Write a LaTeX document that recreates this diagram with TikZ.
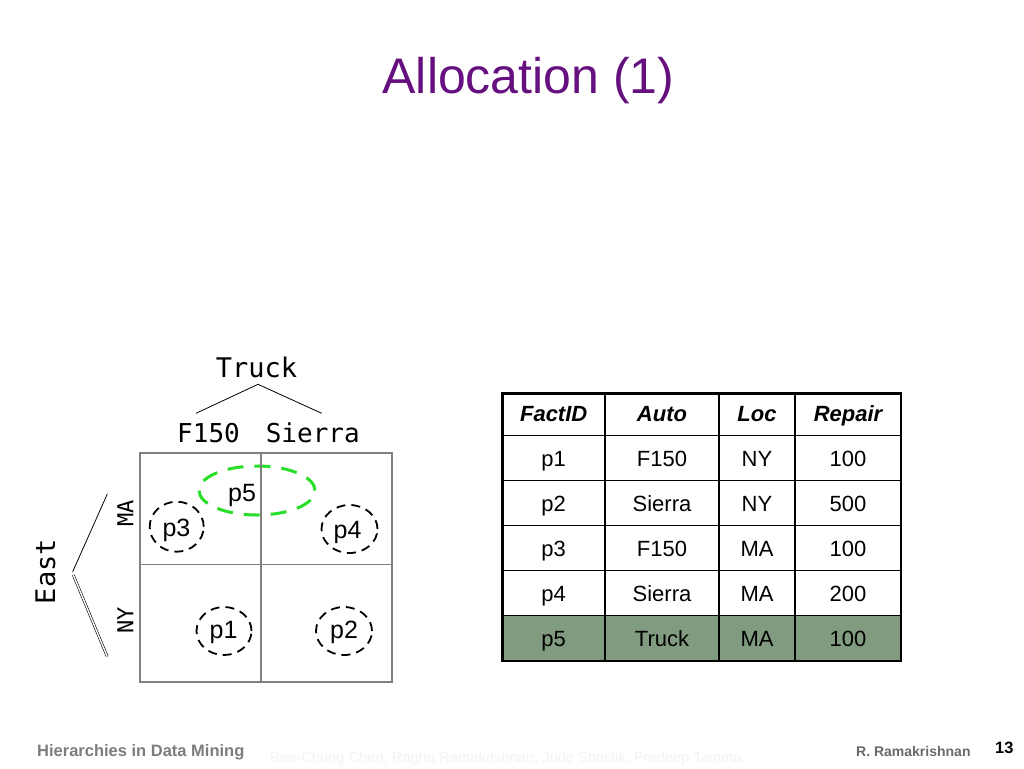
\documentclass[tikz,border=0pt]{standalone}
\usepackage{fontspec}
\setmainfont{Liberation Sans}
\newfontfamily\monof{DejaVu Sans Mono}
\usetikzlibrary{shapes.geometric}
\definecolor{titlepurple}{RGB}{102,16,128}
\definecolor{gridgray}{RGB}{128,128,128}
\definecolor{rowgreen}{RGB}{128,155,128}
\definecolor{dashgreen}{RGB}{40,222,40}
\definecolor{footgray}{RGB}{125,125,125}
\definecolor{faintgray}{RGB}{243,243,243}
\tikzset{
  fs/.style={font=\fontsize{#1}{#1}\selectfont},
  mono/.style={font=\monof\fontsize{#1}{#1}\selectfont, inner sep=0pt},
  cell/.style={font=\fontsize{22}{22}\selectfont, anchor=base, inner sep=0pt, text=black},
  hcell/.style={font=\bfseries\itshape\fontsize{22}{22}\selectfont, anchor=base, inner sep=0pt},
  ptlabel/.style={font=\fontsize{25}{25}\selectfont, anchor=base, inner sep=0pt},
  blackring/.style={ellipse, draw=black, line width=1.8pt, dash pattern=on 9pt off 6pt, inner sep=0pt},
  greenring/.style={ellipse, draw=dashgreen, line width=3pt, dash pattern=on 16pt off 11pt, inner sep=0pt},
  hier/.style={line width=0.8pt, black},
}
\begin{document}
\begin{tikzpicture}[x=1pt,y=-1pt]
\useasboundingbox (0,0) rectangle (1024,768);
\fill[white] (0,0) rectangle (1024,768);

% title
\node[fs=50, text=titlepurple, anchor=base, inner sep=0pt] (title) at (528.5,93) {Allocation (1)};

% hierarchy labels
\node[mono=27, anchor=base] (truck) at (256.5,377.5) {Truck};
\node[mono=26, anchor=base] (f150) at (208.5,442.7) {F150};
\node[mono=26, anchor=base] (sierra) at (312.8,442.7) {Sierra};
\node[mono=27, anchor=base, rotate=90] (east) at (55,571.5) {East};
\node[mono=22, anchor=base, rotate=90] (ma) at (133.3,513.5) {MA};
\node[mono=22, anchor=base, rotate=90] (ny) at (133.3,620) {NY};

\coordinate (tapex) at (258,384.3);
\coordinate (tleft) at (196,413.3);
\coordinate (tright) at (321.7,413.3);
\draw[hier] (tleft) -- (tapex) -- (tright);

\coordinate (etop) at (107.3,494);
\coordinate (emid) at (72.7,571.7);
\coordinate (emid2) at (73.3,575);
\coordinate (ebot) at (107.3,656.7);
\draw[hier] (etop) -- (emid);
\draw[line width=0.6pt, double, double distance=1.4pt] (emid2) -- (ebot);

% ellipses
\node[greenring, minimum width=116pt, minimum height=49pt] (e5) at (257,490.5) {};
\node[blackring, minimum width=54pt, minimum height=50pt] (e3) at (176.7,526.7) {};
\node[blackring, minimum width=56pt, minimum height=48pt] (e4) at (349.5,529) {};
\node[blackring, minimum width=55pt, minimum height=48pt] (e1) at (224,631) {};
\node[blackring, minimum width=56pt, minimum height=48pt] (e2) at (344,631) {};

% grid
\draw[gridgray, line width=1.1pt] (140,453) rectangle (392,682);
\draw[gridgray, line width=1.1pt] (261,453) -- (261,682);
\draw[gridgray, line width=1.1pt] (140,564.5) -- (392,564.5);

\node[ptlabel] (p5) at (242,501.5) {p5};
\node[ptlabel] (p3) at (176.5,536.7) {p3};
\node[ptlabel] (p4) at (347.5,538.3) {p4};
\node[ptlabel] (p1) at (223.5,638.3) {p1};
\node[ptlabel] (p2) at (344,638.3) {p2};

% table
\fill[rowgreen] (502.3,615.7) rectangle (901,661);
\foreach \yy in {435.7,480.7,525.7,570.7,615.7}
  \draw[line width=1.4pt] (502.3,\yy) -- (901,\yy);
\foreach \xx in {605,719,795}
  \draw[line width=1.4pt] (\xx,393.3) -- (\xx,661);
\draw[line width=2.8pt] (502.3,393.3) rectangle (901,661);

\node[hcell] (h1) at (553.7,421) {FactID};
\node[hcell] (h2) at (662,421) {Auto};
\node[hcell] (h3) at (757,421) {Loc};
\node[hcell] (h4) at (848,421) {Repair};

\node[cell] (r1a) at (553.7,466) {p1};
\node[cell] (r1b) at (662,466) {F150};
\node[cell] (r1c) at (757,466) {NY};
\node[cell] (r1d) at (848,466) {100};

\node[cell] (r2a) at (553.7,511) {p2};
\node[cell] (r2b) at (662,511) {Sierra};
\node[cell] (r2c) at (757,511) {NY};
\node[cell] (r2d) at (848,511) {500};

\node[cell] (r3a) at (553.7,556) {p3};
\node[cell] (r3b) at (662,556) {F150};
\node[cell] (r3c) at (757,556) {MA};
\node[cell] (r3d) at (848,556) {100};

\node[cell] (r4a) at (553.7,601) {p4};
\node[cell] (r4b) at (662,601) {Sierra};
\node[cell] (r4c) at (757,601) {MA};
\node[cell] (r4d) at (848,601) {200};

\node[cell] (r5a) at (553.7,646) {p5};
\node[cell] (r5b) at (662,646) {Truck};
\node[cell] (r5c) at (757,646) {MA};
\node[cell] (r5d) at (848,646) {100};

% footer
\node[font=\bfseries\fontsize{16.5}{16.5}\selectfont, text=footgray, anchor=base west, inner sep=0pt] (foot1) at (37,756) {Hierarchies in Data Mining};
\node[font=\fontsize{14.7}{14.7}\selectfont, text=faintgray, anchor=base west, inner sep=0pt] (foot2) at (270,762.7) {Bee-Chung Chen, Raghu Ramakrishnan, Jude Shavlik, Pradeep Tamma};
\node[font=\bfseries\fontsize{14}{14}\selectfont, text=footgray!85!black, anchor=base west, inner sep=0pt] (foot3) at (856,756) {R. Ramakrishnan};
\node[font=\bfseries\fontsize{16.4}{16.4}\selectfont, anchor=base west, inner sep=0pt] (foot4) at (995,753) {13};
\end{tikzpicture}
\end{document}
